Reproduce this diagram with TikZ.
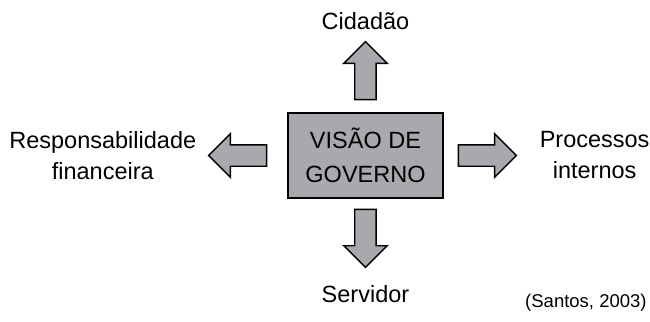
\documentclass[tikz,border=0pt]{standalone}
\usepackage{fontspec}
\setmainfont{Liberation Sans}
\usetikzlibrary{shapes.arrows,positioning}
\definecolor{boxgray}{RGB}{167,169,172}

\begin{document}
\begin{tikzpicture}[x=0.5pt,y=-0.5pt,
  govbox/.style={draw,fill=boxgray,line width=0.7pt,minimum width=77.5pt,minimum height=42.5pt,align=center,font=\fontsize{11.75}{17}\selectfont},
  blockarrow/.style={single arrow,draw,fill=boxgray,line width=0.7pt,inner sep=5pt,minimum height=29pt,minimum width=21pt,single arrow head extend=5.5pt,single arrow tip angle=90},
  lbl/.style={inner sep=0pt,align=center,font=\fontsize{11.75}{15.5}\selectfont}]

\useasboundingbox (0,0) rectangle (650,322);

\node[govbox] (gov) at (365.5,155.5) {VISÃO DE\\GOVERNO};

% arrows round the box
\node[blockarrow,shape border rotate=90,anchor=tail]  (up)   at ([yshift=6pt]gov.north)  {};
\node[blockarrow,shape border rotate=270,anchor=tail] (down) at ([yshift=-5pt]gov.south) {};
\node[blockarrow,shape border rotate=180,anchor=tail] (lft)  at ([xshift=-10pt]gov.west) {};
\node[blockarrow,anchor=tail]                         (rgt)  at ([xshift=7pt]gov.east)   {};

\node[lbl,anchor=base] (cid)  at ([yshift=5.5pt]up.tip)   {Cidadão};
\node[lbl,anchor=base] (serv) at ([yshift=-17pt]down.tip) {Servidor};
\node[lbl,anchor=east] (resp) at ([xshift=-5.5pt]lft.tip) {Responsabilidade\\financeira};
\node[lbl,anchor=west] (proc) at ([xshift=11pt]rgt.tip)   {Processos\\internos};

\node[anchor=base east,inner sep=0pt,font=\fontsize{9.25}{11}\selectfont] (src) at (647,307) {(Santos, 2003)};

\end{tikzpicture}
\end{document}
